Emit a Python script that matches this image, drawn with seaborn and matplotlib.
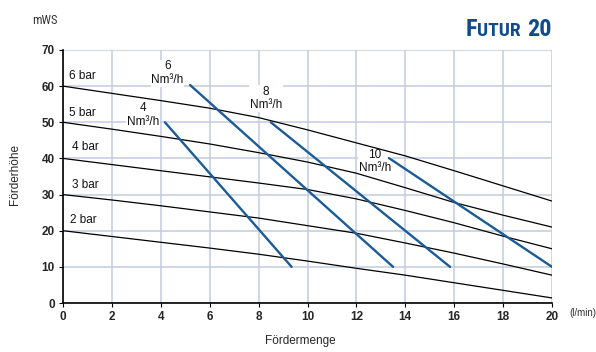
import matplotlib
matplotlib.use("Agg")
import matplotlib.pyplot as plt
from matplotlib import font_manager
import pandas as pd
import seaborn as sns

# pressure curves (bar), head in mWS over flow in l/min
flow = [0, 2, 4, 6, 8, 10, 12, 14, 16, 18, 20]
head_6bar = [60, 58.0, 56.0, 53.9, 51.3, 47.9, 44.3, 40.7, 36.6, 32.4, 28.2]
head_5bar = [50, 48.1, 46.1, 44.0, 41.6, 39.0, 35.9, 31.9, 27.8, 24.3, 21.0]
head_4bar = [40, 38.3, 36.6, 34.9, 33.2, 31.4, 28.8, 25.6, 22.2, 18.5, 15.0]
head_3bar = [30, 28.5, 26.9, 25.2, 23.5, 21.4, 19.3, 16.6, 13.8, 10.8, 7.7]
head_2bar = [20, 18.4, 16.8, 15.2, 13.5, 11.6, 9.6, 7.7, 5.6, 3.5, 1.4]
bar_names = ["6 bar", "5 bar", "4 bar", "3 bar", "2 bar"]

# air consumption lines (Nm3/h), start and end points
air_names = ["4", "6", "8", "10"]
air_flow = [[4.17, 9.35], [5.2, 13.5], [8.5, 15.83], [13.33, 20.0]]
air_head = [[50.0, 10.0], [60.3, 10.0], [50.0, 10.0], [40.1, 10.0]]

x_ticks = list(range(0, 21, 2))
y_ticks = list(range(0, 71, 10))

GRID = "#c2cde0"
BLUE = "#1b5b98"
TITLE_BLUE = "#0f4c8e"


def condensed_font():
    names = {f.name for f in font_manager.fontManager.ttflist}
    for n in ["Liberation Sans Narrow", "DejaVu Sans Condensed", "Roboto Condensed"]:
        if n in names:
            return n, "normal"
    return "DejaVu Sans", "condensed"


def long_frame():
    rows = []
    for name, ys in zip(bar_names, [head_6bar, head_5bar, head_4bar, head_3bar, head_2bar]):
        for x, y in zip(flow, ys):
            rows.append({"curve": name, "flow": x, "head": y})
    return pd.DataFrame(rows)


def air_frame():
    rows = []
    for name, xs, ys in zip(air_names, air_flow, air_head):
        for x, y in zip(xs, ys):
            rows.append({"curve": name, "flow": x, "head": y})
    return pd.DataFrame(rows)


sns.set_theme(style="white")
plt.rcParams["font.family"] = ["Liberation Sans", "DejaVu Sans"]

fig = plt.figure(figsize=(5.96, 3.52), dpi=100)
ax = fig.add_axes([63 / 596, 1 - 303 / 352, 489 / 596, 253 / 352])

df = long_frame()
sns.lineplot(data=df, x="flow", y="head", units="curve", estimator=None,
             color="black", linewidth=0.9, ax=ax, zorder=3)
air = air_frame()
sns.lineplot(data=air, x="flow", y="head", units="curve", estimator=None,
             color=BLUE, linewidth=1.7, ax=ax, zorder=3)

ax.set_xlim(0, 20)
ax.set_ylim(0, 70)
ax.set_xticks(x_ticks)
ax.set_yticks(y_ticks)
ax.set_xticklabels([str(t) for t in x_ticks], fontsize=8.5, fontweight="bold")
ax.set_yticklabels([str(t) for t in y_ticks], fontsize=8.5, fontweight="bold")
ax.tick_params(axis="both", length=3, width=0.8, color="black", pad=3, direction="out",
               bottom=True, left=True)
ax.grid(True, color=GRID, linewidth=1.1)
ax.set_axisbelow(True)
for side in ["top", "right"]:
    ax.spines[side].set_visible(False)
for side in ["left", "bottom"]:
    ax.spines[side].set_color("black")
    ax.spines[side].set_linewidth(1.2)
    ax.spines[side].set_zorder(5)
ax.set_xlabel("")
ax.set_ylabel("")

# labels on the pressure lines
bar_pos = [(0.25, 62.7), (0.25, 52.5), (0.37, 43.1), (0.37, 32.6), (0.29, 23.0)]
for name, (x, y) in zip(bar_names, bar_pos):
    ax.text(x, y, name, fontsize=8.5, ha="left", va="center", color="#111111")

# labels on the air lines, white box hides the grid but not the curves
air_pos = [(3.27, 52.0), (4.27, 63.6), (8.3, 56.5), (12.76, 39.2)]
for name, (x, y) in zip(air_names, air_pos):
    ax.text(x, y, name + "\nNm³/h", fontsize=8.5, ha="center", va="center",
            linespacing=1.15, color="#111111", zorder=2,
            bbox=dict(facecolor="white", edgecolor="none", pad=0.5))

# axis titles
fig.text(300 / 596, 1 - 341 / 352, "Fördermenge", fontsize=8.5, ha="center", va="center")
fig.text(15 / 596, 1 - 175 / 352, "Förderhöhe", fontsize=8.5, rotation=90, ha="center", va="center")
fig.text(583 / 596, 1 - 313 / 352, "(l/min)", fontsize=7, ha="center", va="center", color="#333333")

cfam, cstretch = condensed_font()
fig.text(45 / 596, 1 - 21 / 352, "mWS", fontsize=9, ha="center", va="center",
         color="#333333", family=cfam, stretch=cstretch)

# title in small caps, built right to left
fig.canvas.draw()
renderer = fig.canvas.get_renderer()
x_right = 552
base = 1 - 36 / 352
pieces = [("20", 17.5), ("UTUR\u2009", 14), ("F", 17.5)]
for txt, size in pieces:
    t = fig.text(x_right / 596, base, txt, fontsize=size, fontweight="bold", color=TITLE_BLUE,
                 ha="right", va="baseline", family=cfam, stretch=cstretch)
    bb = t.get_window_extent(renderer)
    x_right = bb.x0 - (3 if txt == "20" else 0)

fig.savefig("out.png", dpi=100)
